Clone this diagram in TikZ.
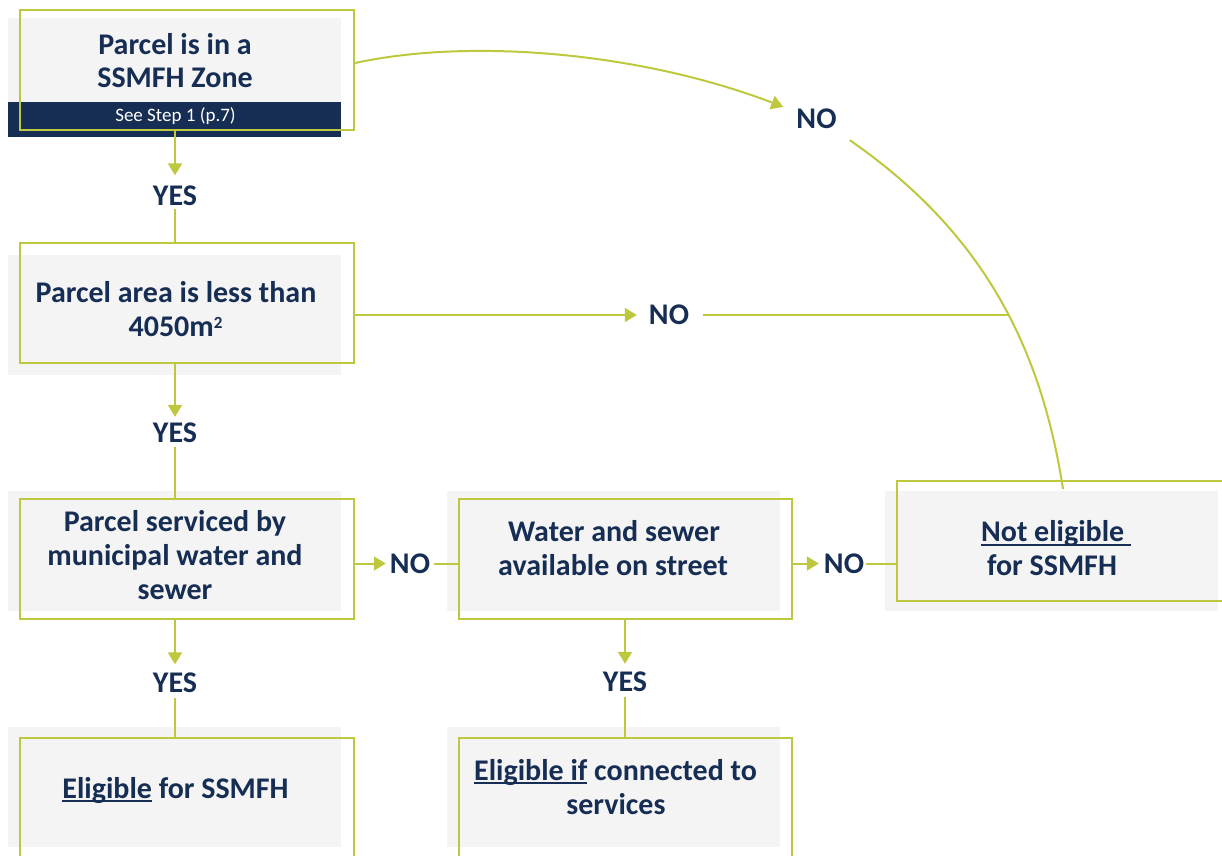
\documentclass[tikz,border=0pt]{standalone}
\usepackage{fontspec}
\setmainfont{Carlito}
\usetikzlibrary{arrows.meta}
\definecolor{lime}{RGB}{190,200,62}
\definecolor{navy}{RGB}{22,45,84}
\definecolor{paper}{RGB}{244,244,244}
\newcommand\myul[1]{\setbox0\hbox{#1}\rlap{\rule[-4pt]{\wd0}{2pt}}\box0\relax}
\begin{document}
\begin{tikzpicture}[x=1pt,y=-1pt,
  outline/.style={draw=lime,line width=2pt,inner sep=0pt,minimum height=120pt},
  txt/.style={font=\bfseries\fontsize{30}{34}\selectfont,text=navy,inner sep=0pt,anchor=base},
  lbl/.style={font=\bfseries\fontsize{30}{34}\selectfont,text=navy,inner sep=0pt},
  conn/.style={draw=lime,line width=2pt},
  arr/.style={conn,-{Triangle[length=12pt,width=14pt]}}]
\useasboundingbox (0,0) rectangle (1222,855);
\clip (0,0) rectangle (1222,855);
% grey backgrounds
\fill[paper] (8,18) rectangle (341,102);
\fill[navy] (8,102) rectangle (341,137);
\fill[paper] (8,255) rectangle (341,375);
\fill[paper] (8,491) rectangle (341,611);
\fill[paper] (447,491) rectangle (780,611);
\fill[paper] (885,491) rectangle (1218,611);
\fill[paper] (8,727) rectangle (341,847);
\fill[paper] (447,727) rectangle (780,847);
% outlines
\node[outline,minimum width=334pt] (b1) at (187,70) {};
\node[outline,minimum width=334pt] (b2) at (187,303) {};
\node[outline,minimum width=334pt] (b3) at (187,559) {};
\node[outline,minimum width=334pt] (b4) at (187,798) {};
\node[outline,minimum width=333pt] (b5) at (625.5,559) {};
\node[outline,minimum width=333pt] (b6) at (625.5,798) {};
\node[outline,minimum width=343pt] (b7) at (1068.5,541) {};
% texts
\node[txt] (t1a) at (175,54) {Parcel is in a};
\node[txt] (t1b) at (175,87) {SSMFH Zone};
\node[anchor=base,inner sep=0pt,text=white,font=\fontsize{19}{22}\selectfont] (t1c) at (175.5,121) {See Step 1 (p.7)};
\node[txt] (t2a) at (176,302) {Parcel area is less than};
\node[txt] (t2b) at (175.5,336) {4050m\raisebox{8pt}{\fontsize{17}{17}\selectfont 2}};
\node[txt] (t3a) at (175,531) {Parcel serviced by};
\node[txt] (t3b) at (175,565) {municipal water and};
\node[txt] (t3c) at (175,599) {sewer};
\node[txt] (t5a) at (614,541) {Water and sewer};
\node[txt] (t5b) at (613,575) {available on street};
\node[txt] (t7a) at (1056,541.5) {\myul{Not eligible\ }};
\node[txt] (t7b) at (1052,575) {for SSMFH};
\node[txt] (t4) at (175.5,798) {\myul{Eligible} for SSMFH};
\node[txt] (t6a) at (615.5,780) {\myul{Eligible if} connected to};
\node[txt] (t6b) at (616,814) {services};
% labels
\node[lbl] (yes1) at (175,195.5) {YES};
\node[lbl] (yes2) at (175,433) {YES};
\node[lbl] (yes3) at (175,682.5) {YES};
\node[lbl] (yes4) at (625,682) {YES};
\node[lbl] (no1) at (816.5,119) {NO};
\node[lbl] (no2) at (669,315) {NO};
\node[lbl] (no3) at (410,563.5) {NO};
\node[lbl] (no4) at (844,563.5) {NO};
\coordinate (join) at (1009,315);
% vertical connectors
\draw[arr,shorten >=10pt] (b1.south -| yes1) -- (yes1.north);
\draw[conn,shorten <=3pt] (yes1.south) -- (b2.north -| yes1);
\draw[arr,shorten >=6pt] (b2.south -| yes2) -- (yes2.north);
\draw[conn,shorten <=4pt] (yes2.south) -- (b3.north -| yes2);
\draw[arr,shorten >=8pt] (b3.south -| yes3) -- (yes3.north);
\draw[conn,shorten <=5pt] (yes3.south) -- (b4.north -| yes3);
\draw[arr,shorten >=8pt] (b5.south -| yes4) -- (yes4.north);
\draw[conn,shorten <=5pt] (yes4.south) -- (b6.north -| yes4);
% horizontal connectors
\draw[arr,shorten >=12pt] (b2.east |- no2) -- (no2.west);
\draw[conn,shorten <=14pt] (no2.east) -- (join);
\draw[arr,shorten >=4pt] (b3.east |- no3) -- (no3.west);
\draw[conn,shorten <=4pt] (no3.east) -- (b5.west |- no3);
\draw[arr,shorten >=5pt] (b5.east |- no4) -- (no4.west);
\draw[conn,shorten <=2pt] (no4.east) -- (b7.west |- no4);
% curves
\draw[arr] ([yshift=7pt]b1.east) .. controls (470,38) and (640,52) .. ([xshift=-13pt,yshift=2pt]no1.north west);
\draw[conn] ([shift={(13pt,-11pt)}]no1.south east) .. controls (978,229) and (1040,340) .. ([xshift=-5.5pt,yshift=-9pt]b7.north);
\end{tikzpicture}
\end{document}
